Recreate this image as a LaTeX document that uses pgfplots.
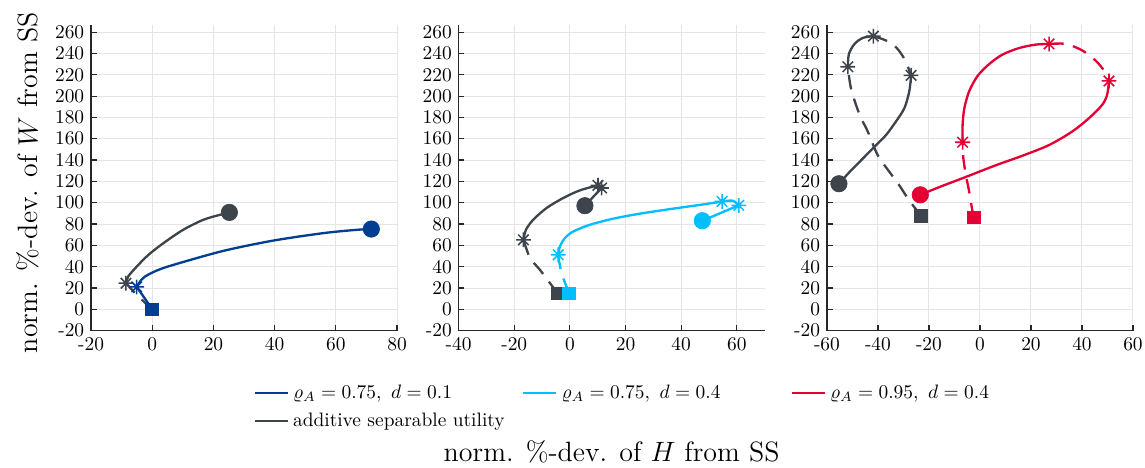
\documentclass[border=0pt]{standalone}
\usepackage{pgfplots}
\pgfplotsset{compat=1.18}
\definecolor{cblue}{RGB}{0,62,145}
\definecolor{ccyan}{RGB}{0,190,255}
\definecolor{cred}{RGB}{227,0,52}
\definecolor{cgray}{RGB}{62,68,76}
\pgfdeclareplotmark{mast}{%
  \pgfpathmoveto{\pgfqpoint{-\pgfplotmarksize}{0pt}}\pgfpathlineto{\pgfqpoint{\pgfplotmarksize}{0pt}}%
  \pgfpathmoveto{\pgfqpoint{0pt}{-\pgfplotmarksize}}\pgfpathlineto{\pgfqpoint{0pt}{\pgfplotmarksize}}%
  \pgfpathmoveto{\pgfqpoint{-0.707\pgfplotmarksize}{-0.707\pgfplotmarksize}}\pgfpathlineto{\pgfqpoint{0.707\pgfplotmarksize}{0.707\pgfplotmarksize}}%
  \pgfpathmoveto{\pgfqpoint{-0.707\pgfplotmarksize}{0.707\pgfplotmarksize}}\pgfpathlineto{\pgfqpoint{0.707\pgfplotmarksize}{-0.707\pgfplotmarksize}}%
  \pgfusepathqstroke}
\newcommand{\LE}[1]{\makebox[116pt][l]{#1}}
\pgfplotsset{
  myax/.style={width=157.6pt,height=157.6pt,scale only axis,
    anchor=south west,
    ymin=-20,ymax=267,ytick={-20,0,...,260},
    axis x line=bottom, axis y line=left,
    axis line style={-,line width=0.7pt,color=black!85},
    grid=major, major grid style={gray!20,line width=0.5pt},
    tick style={black!85,line width=0.6pt}, major tick length=3pt, tick align=inside,
    ticklabel style={font=\normalsize},
    /pgf/number format/assume math mode=true,
    clip=false,
    every axis plot/.append style={forget plot},
  },
  ln/.style={#1,line width=1.2pt,no marks,smooth},
  dsh/.style={#1,line width=1.2pt,no marks,smooth,dash pattern=on 7.5pt off 5pt},
  sq/.style={#1,only marks,mark=square*,mark size=3.3pt,mark options={fill=#1,draw=#1,solid}},
  ci/.style={#1,only marks,mark=*,mark size=4.2pt,mark options={fill=#1,draw=#1,solid}},
  as/.style={#1,only marks,mark=mast,mark size=3.8pt,mark options={draw=#1,line width=0.8pt,solid}},
}
\begin{document}
\begin{tikzpicture}
\path[use as bounding box] (-46.9pt,-70.7pt) rectangle (542.8pt,170.3pt);
% ---------------- panel 1
\begin{axis}[myax,at={(0pt,0pt)},xmin=-20,xmax=80,xtick={-20,0,...,80},
  ylabel={norm. \%-dev. of $W$ from SS},
  ylabel style={at={(axis description cs:-0.206,0.483)},anchor=center,font=\Large}]
\addplot[dsh=cgray] coordinates {(0,0) (-4.5,12) (-8.6,24.5)};
\addplot[ln=cgray] coordinates {(-8.6,24.5) (-7.9,30.7) (-5.1,40) (-1.3,51) (3.6,62) (10.1,74.6) (16.7,84) (22.2,88.7) (25.2,90.9)};
\addplot[sq=cgray] coordinates {(0,0)};
\addplot[as=cgray] coordinates {(-8.6,24.5)};
\addplot[ci=cgray] coordinates {(25.2,90.9)};
\addplot[ln=cblue] coordinates {(0,0) (-2.5,10.5) (-5.1,21)};
\addplot[ln=cblue] coordinates {(-5.1,21) (-4.0,26) (-2.4,30.7) (1.4,36.3) (6.9,41.7) (23.2,54.8) (39.6,64.5) (56,71.5) (66.9,74.6) (71.6,75.3)};
\addplot[sq=cblue] coordinates {(0,0)};
\addplot[as=cblue] coordinates {(-5.1,21)};
\addplot[ci=cblue] coordinates {(71.6,75.3)};
\end{axis}
% ---------------- panel 2
\begin{axis}[myax,at={(189.3pt,0pt)},xmin=-40,xmax=70,xtick={-40,-20,...,60},
  xlabel={norm. \%-dev. of $H$ from SS},
  xlabel style={at={(axis description cs:0.5,-0.396)},anchor=center,font=\Large},
  legend cell align=left,
  legend style={at={(axis description cs:-0.69,-0.15)},anchor=north west,draw=none,fill=none,
    font=\normalsize,legend columns=3,row sep=2pt,
    /tikz/every even column/.append style={column sep=0pt}}]
\addlegendimage{cblue,line width=1.2pt}\addlegendentry{\LE{$\varrho_A=0.75,\ d=0.1$}}
\addlegendimage{ccyan,line width=1.2pt}\addlegendentry{\LE{$\varrho_A=0.75,\ d=0.4$}}
\addlegendimage{cred,line width=1.2pt}\addlegendentry{\LE{$\varrho_A=0.95,\ d=0.4$}}
\addlegendimage{cgray,line width=1.2pt}\addlegendentry{\LE{additive separable utility}}
\addplot[dsh=cgray] coordinates {(-4.4,15) (-10.75,37) (-14.3,48) (-16.7,65.2)};
\addplot[ln=cgray] coordinates {(-16.7,65.2) (-15.8,74.6) (-13.2,84) (-8.4,95) (-2.4,104.4) (3.6,111.6) (10.1,116.3)};
\addplot[ln=cgray] coordinates {(10.1,116.3) (11.4,113.8)};
\addplot[ln=cgray] coordinates {(11.4,113.8) (5.4,97.2)};
\addplot[sq=cgray] coordinates {(-4.4,15)};
\addplot[as=cgray] coordinates {(-16.7,65.2) (10.1,116.3) (11.4,113.8)};
\addplot[ci=cgray] coordinates {(5.4,97.2)};
\addplot[dsh=ccyan] coordinates {(-4.2,51.1) (-3.0,33.9) (-0.25,15)};
\addplot[ln=ccyan] coordinates {(-4.2,51.1) (-3.6,58.9) (-1.8,66.8) (1.2,73) (7.2,79.3) (15.5,85) (25.1,89.7) (37,94.4) (49,98.8) (54.7,101.2)};
\addplot[ln=ccyan] coordinates {(54.7,101.2) (58.5,101.9) (60.7,97.5)};
\addplot[ln=ccyan] coordinates {(60.7,97.5) (47.6,83.1)};
\addplot[sq=ccyan] coordinates {(-0.25,15)};
\addplot[as=ccyan] coordinates {(-4.2,51.1) (54.7,101.2) (60.7,97.5)};
\addplot[ci=ccyan] coordinates {(47.6,83.1)};
\end{axis}
% ---------------- panel 3
\begin{axis}[myax,at={(379pt,0pt)},xmin=-60,xmax=60,xtick={-60,-40,...,60}]
\addplot[dsh=cgray] coordinates {(-23.1,87.8) (-27.7,102) (-31.6,116.2) (-35.5,128.9) (-40.1,144.6) (-44,166.8) (-47.2,182.6) (-50.5,206.3) (-51.8,227.5)};
\addplot[ln=cgray] coordinates {(-51.8,227.5) (-51.4,239.4) (-49.2,248.9) (-45.9,254.6) (-41.8,256.2)};
\addplot[dsh=cgray] coordinates {(-41.8,256.2) (-36.8,252.1) (-32.9,245.8) (-29.6,234.7) (-27,219.5)};
\addplot[ln=cgray] coordinates {(-27,219.5) (-27.7,204.7) (-29.6,188.9) (-32.9,176.3) (-36.8,163.6) (-40.7,154.1) (-45.9,141.5) (-51.1,128.9) (-55.3,117.8)};
\addplot[sq=cgray] coordinates {(-23.1,87.8)};
\addplot[as=cgray] coordinates {(-51.8,227.5) (-41.8,256.2) (-27,219.5)};
\addplot[ci=cgray] coordinates {(-55.3,117.8)};
\addplot[dsh=cred] coordinates {(-2.5,86.3) (-3.1,94.1) (-4.2,110) (-5.5,125.7) (-6.5,141.5) (-6.8,156.7)};
\addplot[ln=cred] coordinates {(-6.8,156.7) (-6.8,173.1) (-6.1,188.9) (-4.2,204.7) (-0.9,219) (3.6,230) (8.8,238.9) (15.4,245.1) (21.9,248.3) (27.1,248.9)};
\addplot[dsh=cred] coordinates {(27.1,248.9) (33.7,248.9) (40.2,242.7) (45.4,233.2) (48.7,223.7) (50.6,214.2)};
\addplot[ln=cred] coordinates {(50.6,214.2) (49.9,201.5) (48,192) (42.8,179.4) (36.2,166.8) (27.1,154.1) (16.7,144.1) (6.3,135.2) (-5.5,124.2) (-15.9,114.7) (-23.4,107.4)};
\addplot[sq=cred] coordinates {(-2.5,86.3)};
\addplot[as=cred] coordinates {(-6.8,156.7) (27.1,248.9) (50.6,214.2)};
\addplot[ci=cred] coordinates {(-23.4,107.4)};
\end{axis}
\end{tikzpicture}
\end{document}
